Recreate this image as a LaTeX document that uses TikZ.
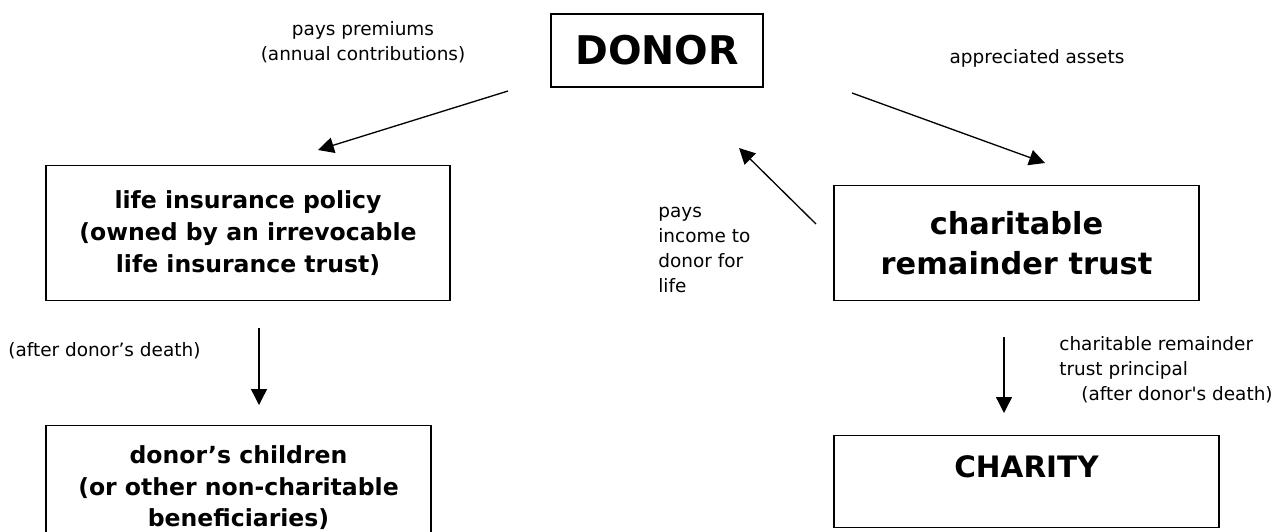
\documentclass[tikz,border=0pt]{standalone}
\usepackage{fontspec}
\setmainfont{DejaVu Sans}
\usetikzlibrary{arrows.meta}
\tikzset{
  boxnode/.style={draw, line width=0.75pt, inner sep=0pt, align=center},
  flow/.style={-{Triangle[length=9pt, width=9pt]}, line width=0.75pt},
  note/.style={inner sep=0pt, font=\fontsize{10.5}{14.2}\selectfont}
}

\begin{document}
\begin{tikzpicture}[x=0.02cm, y=-0.02cm]
\useasboundingbox (0,0) rectangle (1284,531);
% the boxes
\node[boxnode, minimum width=4.24cm, minimum height=1.46cm,
  font=\fontsize{22.5}{27}\selectfont\bfseries] (donor) at (657,50.5) {DONOR};
\node[boxnode, minimum width=8.08cm, minimum height=2.7cm,
  font=\fontsize{13.4}{18.4}\selectfont\bfseries] (lifepol) at (248,233)
  {life insurance policy\\(owned by an irrevocable\\life insurance trust)};
\node[boxnode, minimum width=7.3cm, minimum height=2.3cm,
  font=\fontsize{17.3}{22.7}\selectfont\bfseries] (crt) at (1016.5,243)
  {charitable\\remainder trust};
\node[boxnode, anchor=north, minimum width=7.7cm, minimum height=2.48cm,
  font=\fontsize{13.4}{18}\selectfont\bfseries] (kids) at (238.5,425)
  {donor’s children\\(or other non-charitable\\beneficiaries)};
\node[boxnode, anchor=north, minimum width=7.7cm, text height=0.84cm, text depth=1cm,
  font=\fontsize{16.8}{20}\selectfont\bfseries] (charity) at (1026.5,435) {CHARITY};
% the labels (base = last line)
\node[note, align=center, anchor=base] (premlbl) at (363,60)
  {pays premiums\\(annual contributions)};
\node[note, anchor=base] (assetlbl) at (1037,63) {appreciated assets};
\node[note, align=left, anchor=base west] (incomelbl) at (658,292)
  {pays\\income to\\donor for\\life};
\node[note, anchor=base west] (deathlbl) at (8,356) {(after donor’s death)};
\node[note, align=left, anchor=base west] (princlbl) at (1059,400)
  {charitable remainder\\trust principal\\\hspace*{0.44cm}(after donor\textquotesingle s death)};
% arrow ends
\coordinate (premfrom) at (508,91);
\coordinate (premto) at (318,150);
\coordinate (assetfrom) at (852,93);
\coordinate (assetto) at (1045,163);
\coordinate (incomefrom) at (816,224);
\coordinate (incometo) at (739,148);
\coordinate (deathfrom) at (259,328);
\coordinate (deathto) at (259,405);
\coordinate (princfrom) at (1004,337);
\coordinate (princto) at (1004,413);
% the flows
\draw[flow] (premfrom) -- (premto);
\draw[flow] (assetfrom) -- (assetto);
\draw[flow] (incomefrom) -- (incometo);
\draw[flow] (deathfrom) -- (deathto);
\draw[flow] (princfrom) -- (princto);
\end{tikzpicture}
\end{document}
